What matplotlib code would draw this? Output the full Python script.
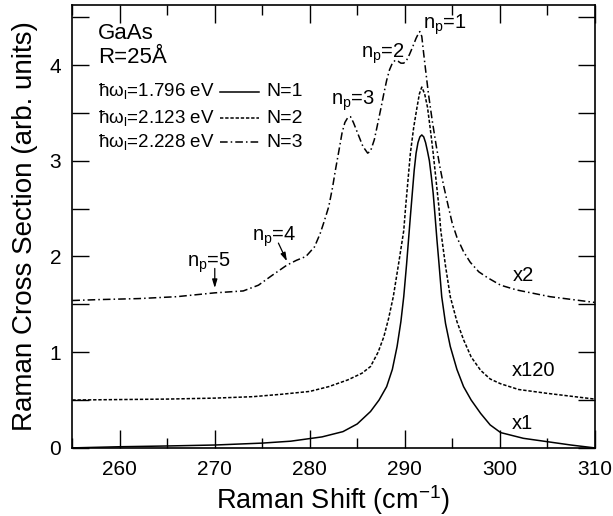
import numpy as np
import matplotlib
matplotlib.use("Agg")
import matplotlib.pyplot as plt
from matplotlib.ticker import MultipleLocator

plt.rcParams['font.family'] = ['Liberation Sans', 'DejaVu Sans']
plt.rcParams['mathtext.fontset'] = 'custom'
plt.rcParams['mathtext.rm'] = 'Liberation Sans'

# N=1, x1 (solid)
x_n1 = [255, 260, 265, 270, 275, 278, 281.3, 283.5, 285, 286.4, 287.3, 288.1,
        288.7, 289.2, 289.6, 289.9, 290.2, 290.4, 290.6, 290.8, 291.0, 291.2,
        291.4, 291.6, 291.8, 292.0, 292.2, 292.4, 292.6, 292.8, 293.0, 293.2,
        293.4, 293.6, 293.9, 294.3, 294.8, 295.5, 296.2, 297.0, 298.0, 299.0,
        300.1, 302.5, 305, 307.5, 310]
y_n1 = [0.0, 0.012, 0.02, 0.03, 0.05, 0.07, 0.115, 0.17, 0.25, 0.38, 0.5, 0.64,
        0.82, 1.06, 1.32, 1.58, 1.92, 2.17, 2.42, 2.66, 2.9, 3.08,
        3.19, 3.25, 3.27, 3.25, 3.19, 3.1, 3.0, 2.84, 2.66, 2.42,
        2.17, 1.94, 1.58, 1.3, 1.06, 0.82, 0.64, 0.5, 0.36, 0.24,
        0.16, 0.1, 0.065, 0.03, 0.0]

# N=2, x120 (dotted)
x_n2 = [255, 260, 265, 270, 274, 277, 280, 282, 284, 285.5, 286.4, 287.2,
        287.8, 288.3, 288.8, 289.4, 289.9, 290.1, 290.35, 290.6, 290.95, 291.3,
        291.55, 291.8, 292.1, 292.4, 292.7, 293.0, 293.3, 293.6, 293.8, 294.3,
        294.8, 295.5, 296.2, 297.0, 298.0, 299.0, 300.1, 302, 305, 310]
y_n2 = [0.50, 0.505, 0.51, 0.52, 0.535, 0.56, 0.59, 0.64, 0.71, 0.78, 0.85, 1.0,
        1.16, 1.35, 1.58, 1.95, 2.27, 2.52, 2.8, 3.08, 3.35, 3.56,
        3.7, 3.77, 3.7, 3.56, 3.33, 3.08, 2.8, 2.52, 2.27, 1.9,
        1.58, 1.32, 1.13, 0.95, 0.81, 0.72, 0.67, 0.61, 0.57, 0.51]

# N=3, x2 (dash-dot)
x_n3 = [255, 258, 262, 266, 270, 273, 274.6, 276.0, 277.6, 278.6, 279.6, 280.5,
        281.1, 281.5, 282.0, 282.4, 282.7, 283.1, 283.4, 283.7, 284.0, 284.3,
        284.6, 285.0, 285.6, 286.1, 286.4, 286.8, 287.1, 287.5, 287.8, 288.1,
        288.4, 288.7, 289.0, 289.3, 289.6, 289.9, 290.2, 290.5, 290.8, 291.2,
        291.5, 291.6, 291.8, 292.0, 292.2, 292.5, 292.9, 293.3, 293.7, 294.1,
        294.6, 295.0, 295.5, 296.2, 296.9, 297.8, 298.7, 300.1, 301.8, 305.3,
        310]
y_n3 = [1.54, 1.55, 1.56, 1.58, 1.62, 1.64, 1.70, 1.80, 1.91, 1.96, 2.00, 2.10,
        2.24, 2.36, 2.52, 2.72, 2.90, 3.12, 3.29, 3.40, 3.45, 3.46,
        3.40, 3.30, 3.15, 3.08, 3.10, 3.22, 3.36, 3.55, 3.70, 3.84,
        3.95, 4.02, 4.05, 4.04, 4.02, 4.02, 4.05, 4.11, 4.18, 4.28,
        4.34, 4.35, 4.30, 4.12, 3.95, 3.70, 3.42, 3.17, 2.94, 2.74,
        2.52, 2.35, 2.20, 2.05, 1.94, 1.84, 1.78, 1.70, 1.65, 1.58,
        1.52]

energies = ["1.796", "2.123", "2.228"]
n_labels = ["N=1", "N=2", "N=3"]
scales = ["x1", "x120", "x2"]

styles = ['-', (0, (2.2, 1.2)), (0, (5, 2, 1, 2))]
lw = 1.1

fig = plt.figure(figsize=(6.13, 5.16), dpi=100)
ax = fig.add_axes([0.118, 0.132, 0.852, 0.858])

ax.plot(x_n1, y_n1, color='black', lw=lw, linestyle=styles[0])
ax.plot(x_n2, y_n2, color='black', lw=lw, linestyle=styles[1])
ax.plot(x_n3, y_n3, color='black', lw=lw, linestyle=styles[2])

ax.set_xlim(255, 310)
ax.set_ylim(0, 4.626)
ax.xaxis.set_major_locator(MultipleLocator(10))
ax.xaxis.set_minor_locator(MultipleLocator(5))
ax.yaxis.set_major_locator(MultipleLocator(1))
ax.yaxis.set_minor_locator(MultipleLocator(0.5))
ax.tick_params(which='both', direction='in', top=True, right=True,
               labelsize=15, width=1.0)
ax.tick_params(axis='x', which='major', length=13, pad=9)
ax.tick_params(axis='x', which='minor', length=7)
ax.tick_params(axis='y', which='both', length=12, pad=8)
for s in ax.spines.values():
    s.set_linewidth(1.2)

ax.set_xlabel("Raman Shift (cm$^{\\mathregular{-1}}$)", fontsize=19.5, labelpad=3)
ax.set_ylabel("Raman Cross Section (arb. units)", fontsize=20, labelpad=8)

# legend block
fs = 14.5
fs_leg = 13.5
ax.text(257.7, 4.33, "GaAs", fontsize=16, va='center', ha='left')
ax.text(257.7, 4.08, "R=25Å", fontsize=16, va='center', ha='left')
rows_y = [0.804, 0.744, 0.690]
for e, lab, st, yy in zip(energies, n_labels, styles, rows_y):
    ax.text(0.049, yy, "ħω$_\\mathregular{l}$=" + e + " eV", fontsize=fs_leg,
            va='center', ha='left', transform=ax.transAxes)
    ax.plot([0.282, 0.358], [yy, yy], color='black', lw=lw, linestyle=st,
            transform=ax.transAxes)
    ax.text(0.372, yy, lab, fontsize=fs_leg + 0.5, va='center', ha='left',
            transform=ax.transAxes)

# peak labels
ax.text(294.2, 4.42, "n$_\\mathregular{p}$=1", fontsize=fs, ha='center', va='center')
ax.text(287.7, 4.12, "n$_\\mathregular{p}$=2", fontsize=fs, ha='center', va='center')
ax.text(284.5, 3.63, "n$_\\mathregular{p}$=3", fontsize=fs, ha='center', va='center')
arrow = dict(arrowstyle='-|>,head_length=0.5,head_width=0.15', color='black',
             lw=0.9, shrinkA=0, shrinkB=0)
ax.text(276.2, 2.16, "n$_\\mathregular{p}$=4", fontsize=fs, ha='center', va='baseline')
ax.annotate("", xy=(277.6, 1.95), xytext=(276.7, 2.14), arrowprops=arrow)
ax.text(269.4, 1.89, "n$_\\mathregular{p}$=5", fontsize=fs, ha='center', va='baseline')
ax.annotate("", xy=(270.0, 1.67), xytext=(270.0, 1.875), arrowprops=arrow)

# scale factors
ax.text(302.5, 1.80, scales[2], fontsize=fs, ha='center', va='center')
ax.text(303.6, 0.81, scales[1], fontsize=fs, ha='center', va='center')
ax.text(302.4, 0.255, scales[0], fontsize=fs, ha='center', va='center')

fig.savefig("out.png", dpi=100)
